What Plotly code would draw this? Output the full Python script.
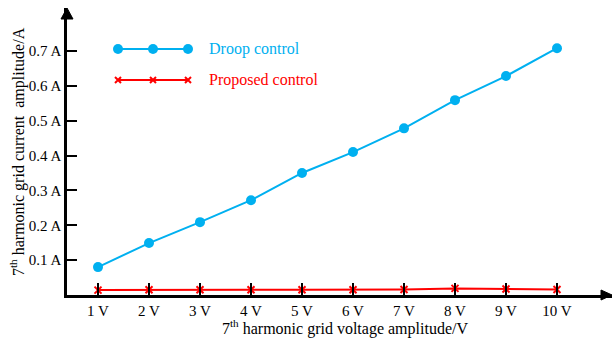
import plotly.graph_objects as go

# Harmonic voltage amplitude applied at the grid (V)
voltage = [1, 2, 3, 4, 5, 6, 7, 8, 9, 10]
voltage_labels = ["1 V", "2 V", "3 V", "4 V", "5 V", "6 V", "7 V", "8 V", "9 V", "10 V"]

# 7th harmonic grid current amplitude (A)
droop_current = [0.080, 0.149, 0.209, 0.272, 0.350, 0.410, 0.478, 0.559, 0.628, 0.708]
proposed_current = [0.014, 0.015, 0.015, 0.015, 0.015, 0.015, 0.016, 0.019, 0.017, 0.016]

current_ticks = [0.1, 0.2, 0.3, 0.4, 0.5, 0.6, 0.7]
current_labels = ["0.1 A", "0.2 A", "0.3 A", "0.4 A", "0.5 A", "0.6 A", "0.7 A"]

BLUE = "#00B0F0"
RED = "#FF0000"
FONT = "Times New Roman, Liberation Serif, DejaVu Serif, serif"

W, H = 613, 341
L, R, T, B = 67, 1, 8, 46
PW, PH = W - L - R, H - T - B


def px(xp):
    return (xp - L) / PW


def py(yp):
    return (H - B - yp) / PH


fig = go.Figure()
fig.add_trace(go.Scatter(
    x=voltage, y=droop_current, mode="lines+markers", name="Droop control",
    line=dict(color=BLUE, width=2), marker=dict(color=BLUE, size=10, symbol="circle"),
))
fig.add_trace(go.Scatter(
    x=voltage, y=proposed_current, mode="lines+markers", name="Proposed control",
    line=dict(color=RED, width=2),
    marker=dict(color=RED, size=7, symbol="x-thin", line=dict(color=RED, width=2)),
))

shapes = []
# axis arrowheads
shapes.append(dict(type="path", xref="paper", yref="paper", xsizemode="pixel", ysizemode="pixel",
                   xanchor=0, yanchor=1, path="M -6,-11 L 0,0 L 6,-11 Z",
                   fillcolor="black", line=dict(color="black", width=1)))
shapes.append(dict(type="path", xref="paper", yref="paper", xsizemode="pixel", ysizemode="pixel",
                   xanchor=1, yanchor=0, path="M -11,-5 L 0,0 L -11,5 Z",
                   fillcolor="black", line=dict(color="black", width=1)))

# legend samples
leg_x = [118, 153, 188]
for yy, color, kind in [(49, BLUE, "o"), (80, RED, "x")]:
    shapes.append(dict(type="line", xref="paper", yref="paper",
                       x0=px(leg_x[0]), x1=px(leg_x[-1]), y0=py(yy), y1=py(yy),
                       line=dict(color=color, width=2)))
    for xx in leg_x:
        if kind == "o":
            shapes.append(dict(type="circle", xref="paper", yref="paper",
                               xsizemode="pixel", ysizemode="pixel",
                               xanchor=px(xx), yanchor=py(yy),
                               x0=-5, x1=5, y0=-5, y1=5,
                               fillcolor=color, line=dict(color=color, width=0)))
        else:
            shapes.append(dict(type="path", xref="paper", yref="paper",
                               xsizemode="pixel", ysizemode="pixel",
                               xanchor=px(xx), yanchor=py(yy),
                               path="M -3,-3 L 3,3 M -3,3 L 3,-3",
                               line=dict(color=color, width=2)))

annotations = [
    dict(text="Droop control", xref="paper", yref="paper", x=px(207), y=py(49),
         xanchor="left", yanchor="middle", showarrow=False,
         font=dict(family=FONT, size=16, color=BLUE)),
    dict(text="Proposed control", xref="paper", yref="paper", x=px(207), y=py(80),
         xanchor="left", yanchor="middle", showarrow=False,
         font=dict(family=FONT, size=16, color=RED)),
    dict(text="7<sup>th</sup> harmonic grid voltage amplitude/V", xref="paper", yref="paper",
         x=px(345), y=py(327), xanchor="center", yanchor="middle", showarrow=False,
         font=dict(family=FONT, size=16, color="black")),
    dict(text="7<sup>th</sup> harmonic grid current\u00a0 amplitude/A", xref="paper", yref="paper",
         x=px(17), y=py(152), xanchor="center", yanchor="middle", showarrow=False,
         textangle=-90, font=dict(family=FONT, size=16, color="black")),
]

x_lo = 1 - (98 - L) / 51.0
fig.update_layout(
    width=W, height=H, margin=dict(l=L, r=R, t=T, b=B),
    paper_bgcolor="white", plot_bgcolor="white", showlegend=False,
    font=dict(family=FONT, size=15, color="black"),
    shapes=shapes, annotations=annotations,
    xaxis=dict(range=[x_lo, x_lo + PW / 51.0], tickvals=voltage, ticktext=voltage_labels,
               tickfont=dict(family=FONT, size=15, color="black"),
               showgrid=False, zeroline=False, showline=True, linecolor="black", linewidth=2.5,
               ticks="inside", ticklen=12, tickwidth=2, tickcolor="black"),
    yaxis=dict(range=[0, PH / 348.6], tickvals=current_ticks, ticktext=current_labels,
               tickfont=dict(family=FONT, size=15, color="black"),
               showgrid=False, zeroline=False, showline=True, linecolor="black", linewidth=2.5,
               ticks="inside", ticklen=10, tickwidth=2, tickcolor="black"),
)

fig.write_html("out.html")
